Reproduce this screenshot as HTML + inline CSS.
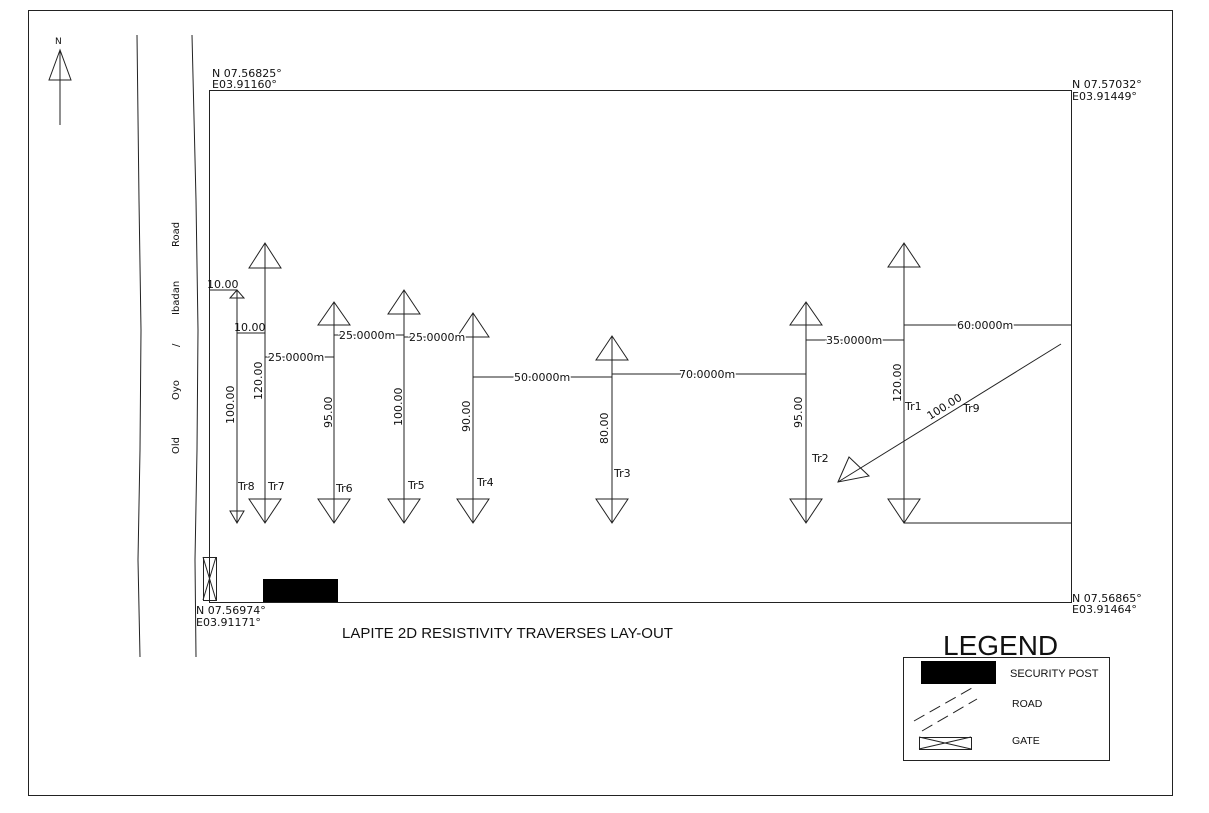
<!DOCTYPE html>
<html><head><meta charset="utf-8"><style>
html,body{margin:0;padding:0;background:#fff;}
svg{display:block;}
text{font-family:"DejaVu Sans","Liberation Sans",sans-serif;fill:#111;}
</style></head><body>
<svg width="1209" height="813" viewBox="0 0 1209 813" xmlns="http://www.w3.org/2000/svg">
<g fill="none" stroke="#222" stroke-width="1">
<rect x="28.5" y="10.5" width="1144" height="785"/>
<polyline points="137,35 139,200 141,330 140,450 138,560 140,657"/>
<polyline points="192,35 196,200 198,330 197,450 195,560 196,657"/>
<rect x="209.5" y="90.5" width="862" height="512"/>
<line x1="60" y1="50" x2="60" y2="125"/>
<polygon points="60,50 49,80 71,80"/>
<line x1="237" y1="290" x2="237" y2="523"/>
<polygon points="237,290 230,298 244,298"/><polygon points="237,523 230,511 244,511"/>
<line x1="265" y1="243" x2="265" y2="523"/><polygon points="265,243 249,268 281,268"/><polygon points="265,523 249,499 281,499"/>
<line x1="334" y1="302" x2="334" y2="523"/><polygon points="334,302 318,325 350,325"/><polygon points="334,523 318,499 350,499"/>
<line x1="404" y1="290" x2="404" y2="523"/><polygon points="404,290 388,314 420,314"/><polygon points="404,523 388,499 420,499"/>
<line x1="473" y1="313" x2="473" y2="523"/><polygon points="473,313 457,337 489,337"/><polygon points="473,523 457,499 489,499"/>
<line x1="612" y1="336" x2="612" y2="523"/><polygon points="612,336 596,360 628,360"/><polygon points="612,523 596,499 628,499"/>
<line x1="806" y1="302" x2="806" y2="523"/><polygon points="806,302 790,325 822,325"/><polygon points="806,523 790,499 822,499"/>
<line x1="904" y1="243" x2="904" y2="523"/><polygon points="904,243 888,267 920,267"/><polygon points="904,523 888,499 920,499"/>
<line x1="209" y1="290" x2="237" y2="290"/>
<line x1="237" y1="333" x2="265" y2="333"/>
<line x1="265" y1="357" x2="334" y2="357"/>
<line x1="334" y1="335" x2="404" y2="335"/>
<line x1="404" y1="337" x2="473" y2="337"/>
<line x1="473" y1="377" x2="612" y2="377"/>
<line x1="612" y1="374" x2="806" y2="374"/>
<line x1="806" y1="340" x2="904" y2="340"/>
<line x1="904" y1="325" x2="1071" y2="325"/>
<line x1="904" y1="523" x2="1071" y2="523"/>
<line x1="1061" y1="344" x2="838" y2="482"/>
<polygon points="838,482 849,457 869,476"/>
<rect x="203.5" y="557.5" width="13" height="43"/>
<line x1="203" y1="557" x2="216" y2="600"/><line x1="216" y1="557" x2="203" y2="600"/>
<rect x="903.5" y="657.5" width="206" height="103"/>
<rect x="919.5" y="737.5" width="52" height="12"/>
<line x1="919" y1="737" x2="971" y2="749"/><line x1="971" y1="737" x2="919" y2="749"/>
<g stroke-dasharray="12,6"><line x1="914" y1="721" x2="972" y2="688"/><line x1="922" y1="731" x2="977" y2="699"/></g>
</g>
<rect x="263" y="579" width="75" height="23" fill="#000"/>
<rect x="921" y="661" width="75" height="23" fill="#000"/>
<g font-size="11">
<text x="55" y="44" font-size="9">N</text>
<text x="212" y="77">N 07.56825°</text><text x="212" y="88">E03.91160°</text>
<text x="1072" y="88">N 07.57032°</text><text x="1072" y="100">E03.91449°</text>
<text x="1072" y="602">N 07.56865°</text><text x="1072" y="613">E03.91464°</text>
<text x="196" y="614">N 07.56974°</text><text x="196" y="626">E03.91171°</text>
<text x="207" y="288">10.00</text>
<text x="234" y="331">10.00</text>
<text x="268" y="361" style="paint-order:stroke" stroke="#fff" stroke-width="3">25.0000m</text>
<text x="339" y="339" style="paint-order:stroke" stroke="#fff" stroke-width="3">25.0000m</text>
<text x="409" y="341" style="paint-order:stroke" stroke="#fff" stroke-width="3">25.0000m</text>
<text x="514" y="381" style="paint-order:stroke" stroke="#fff" stroke-width="3">50.0000m</text>
<text x="679" y="378" style="paint-order:stroke" stroke="#fff" stroke-width="3">70.0000m</text>
<text x="826" y="344" style="paint-order:stroke" stroke="#fff" stroke-width="3">35.0000m</text>
<text x="957" y="329" style="paint-order:stroke" stroke="#fff" stroke-width="3">60.0000m</text>
<text x="238" y="490">Tr8</text><text x="268" y="490">Tr7</text><text x="336" y="492">Tr6</text>
<text x="408" y="489">Tr5</text><text x="477" y="486">Tr4</text><text x="614" y="477">Tr3</text>
<text x="812" y="462">Tr2</text><text x="905" y="410">Tr1</text><text x="963" y="412">Tr9</text>
<text transform="translate(234,424) rotate(-90)">100.00</text>
<text transform="translate(262,400) rotate(-90)">120.00</text>
<text transform="translate(332,428) rotate(-90)">95.00</text>
<text transform="translate(402,426) rotate(-90)">100.00</text>
<text transform="translate(470,432) rotate(-90)">90.00</text>
<text transform="translate(608,444) rotate(-90)">80.00</text>
<text transform="translate(802,428) rotate(-90)">95.00</text>
<text transform="translate(901,402) rotate(-90)">120.00</text>
<text transform="translate(930,420) rotate(-32)">100.00</text>
<g font-size="10" font-family="Liberation Sans">
<text transform="translate(179,454) rotate(-90)">Old</text>
<text transform="translate(179,400) rotate(-90)">Oyo</text>
<text transform="translate(179,347) rotate(-90)">/</text>
<text transform="translate(179,315) rotate(-90)">Ibadan</text>
<text transform="translate(179,247) rotate(-90)">Road</text>
</g>
<text x="342" y="638" font-size="15" style="font-family:'Liberation Sans',sans-serif">LAPITE 2D RESISTIVITY TRAVERSES LAY-OUT</text>
<text x="943" y="655" font-size="28" style="font-family:'Liberation Sans',sans-serif">LEGEND</text>
<text x="1010" y="677" font-size="11" style="font-family:'Liberation Sans',sans-serif">SECURITY POST</text>
<text x="1012" y="707" font-size="10.5" style="font-family:'Liberation Sans',sans-serif">ROAD</text>
<text x="1012" y="744" font-size="10.5" style="font-family:'Liberation Sans',sans-serif">GATE</text>
</g>
</svg>
</body></html>
